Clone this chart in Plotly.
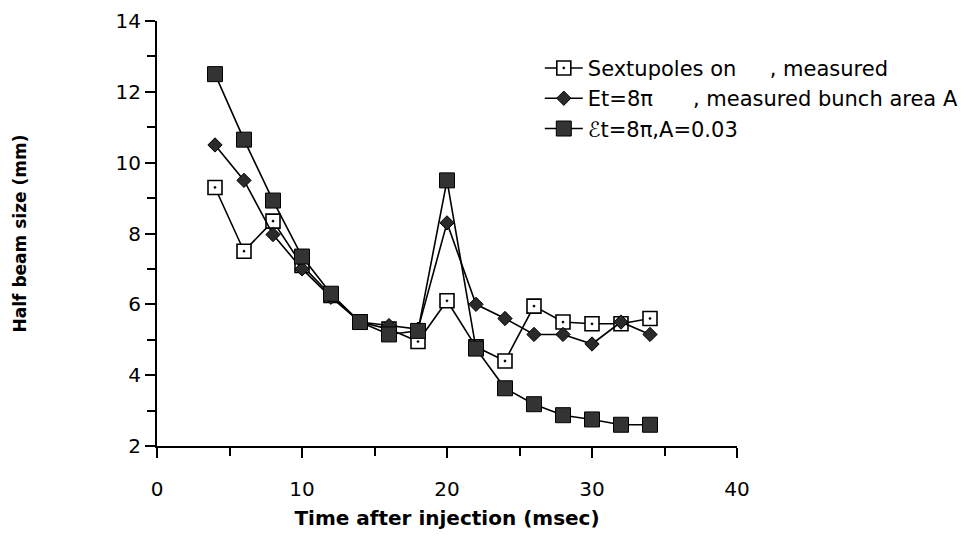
import plotly.graph_objects as go

# time after injection (msec)
t = [4, 6, 8, 10, 12, 14, 16, 18, 20, 22, 24, 26, 28, 30, 32, 34]

# half beam size (mm)
sext_on = [9.3, 7.5, 8.35, 7.1, 6.25, 5.5, 5.3, 4.95, 6.1, 4.8, 4.4, 5.95, 5.5, 5.45, 5.45, 5.6]
et_meas = [10.5, 9.5, 7.97, 7.0, 6.2, 5.5, 5.4, 5.3, 8.3, 6.0, 5.6, 5.15, 5.15, 4.88, 5.5, 5.15]
et_a003 = [12.5, 10.65, 8.93, 7.35, 6.3, 5.5, 5.15, 5.25, 9.5, 4.75, 3.63, 3.18, 2.87, 2.75, 2.6, 2.6]

names = [
    "Sextupoles on\u00a0\u00a0\u00a0\u00a0\u00a0, measured",
    "Et=8\u03c0\u00a0\u00a0\u00a0\u00a0\u00a0\u00a0, measured bunch area A",
    "\u2130t=8\u03c0,A=0.03",
]

fig = go.Figure()

fig.add_trace(go.Scatter(
    x=t, y=sext_on, name=names[0], mode="lines+markers",
    line=dict(color="black", width=1.6),
    marker=dict(symbol="square-dot", size=14, color="white",
                line=dict(color="black", width=1.6)),
))
fig.add_trace(go.Scatter(
    x=t, y=et_meas, name=names[1], mode="lines+markers",
    line=dict(color="black", width=1.6),
    marker=dict(symbol="diamond", size=11, color="#2a2a2a",
                line=dict(color="black", width=1)),
))
fig.add_trace(go.Scatter(
    x=t, y=et_a003, name=names[2], mode="lines+markers",
    line=dict(color="black", width=1.6),
    marker=dict(symbol="square", size=15, color="#333333",
                line=dict(color="black", width=1)),
))

fig.update_layout(
    width=969, height=538,
    margin=dict(l=149, r=240, t=13, b=100),
    paper_bgcolor="white", plot_bgcolor="white",
    font=dict(family="DejaVu Sans", size=20, color="black"),
    showlegend=True,
    legend=dict(x=0.66, y=0.937, xanchor="left", yanchor="top",
                bgcolor="rgba(0,0,0,0)", font=dict(size=21),
                itemwidth=38, tracegroupgap=0),
)

fig.update_xaxes(
    range=[0, 40], tickvals=[0, 10, 20, 30, 40],
    minor=dict(tickvals=[5, 15, 25, 35], ticklen=8, tickcolor="black", ticks="outside"),
    ticks="outside", ticklen=10, tickwidth=2, tickcolor="black",
    showline=True, linecolor="black", linewidth=2,
    showgrid=False, zeroline=False, automargin=False,
    tickfont=dict(size=20), ticklabelstandoff=14, ticklabeloverflow="allow",
    title=dict(text="<b>Time after injection (msec)</b>", font=dict(size=20), standoff=11),
)
fig.update_yaxes(
    range=[2, 14], tickvals=[2, 4, 6, 8, 10, 12, 14],
    minor=dict(tickvals=[3, 5, 7, 9, 11, 13], ticklen=8, tickcolor="black", ticks="outside"),
    ticks="outside", ticklen=10, tickwidth=2, tickcolor="black",
    showline=True, linecolor="black", linewidth=2,
    showgrid=False, zeroline=False, automargin=False,
    tickfont=dict(size=20), ticklabeloverflow="allow",
    title=dict(text="<b>Half beam size (mm)</b>", font=dict(size=17), standoff=85),
)

fig.write_html("out.html")
